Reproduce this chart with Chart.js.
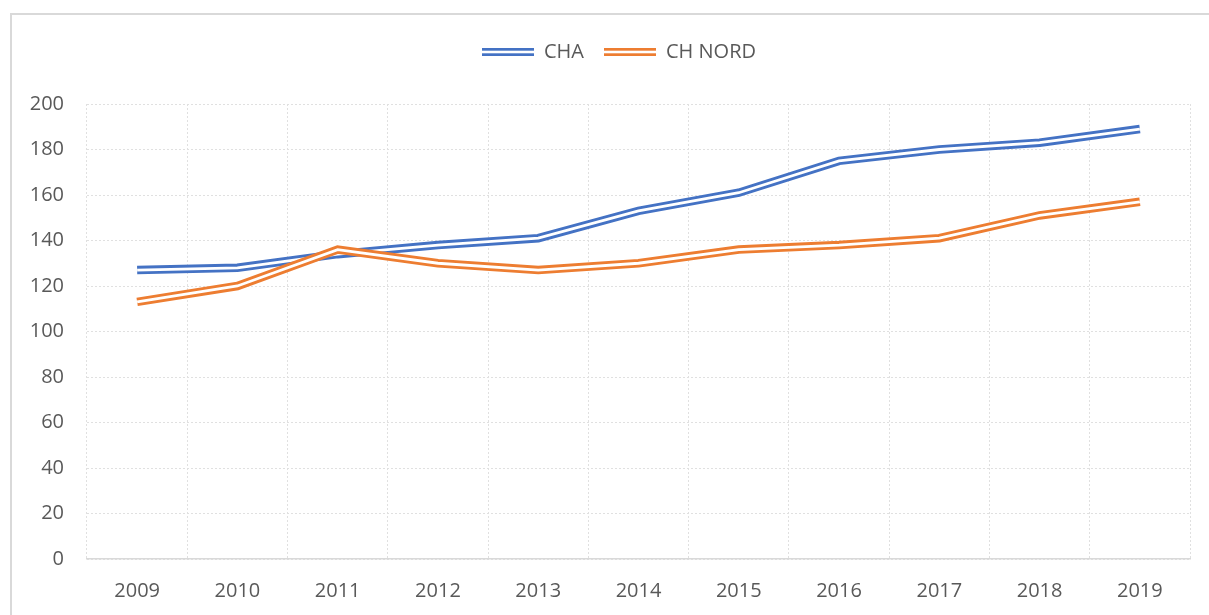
<!DOCTYPE html>
<html>
<head>
<meta charset="utf-8">
<script src="https://cdn.jsdelivr.net/npm/chart.js@4/dist/chart.umd.min.js"></script>
<style>
    html, body { margin: 0; padding: 0; background: #fff; overflow: hidden; }
    #frame { position: absolute; left: 10px; top: 13px; width: 1400px; height: 800px; border-left: 2px solid #d9d9d9; border-top: 2px solid #d9d9d9; }
    #wrap { position: absolute; left: 0; top: 0; width: 1209px; height: 615px; }
</style>
</head>
<body>
<div id="frame"></div>
<div id="wrap"><canvas id="lineChart"></canvas></div>
<script>
const years = ['2009', '2010', '2011', '2012', '2013', '2014', '2015', '2016', '2017', '2018', '2019'];
const chaValues = [127, 128, 134, 138, 141, 153, 161, 175, 180, 183, 189];
const chNordValues = [113, 120, 136, 130, 127, 130, 136, 138, 141, 151, 157];
const seriesNames = ['CHA', 'CH NORD'];
const seriesColors = ['#4472C4', '#ED7D31'];

const textColor = '#595959';
const gridColor = '#e0e0e0';
const fontFamily = "'Open Sans', 'Liberation Sans', sans-serif";

// little double line used as the legend marker
function doubleLineIcon(color) {
    const c = document.createElement('canvas');
    c.width = 52;
    c.height = 8;
    const ctx = c.getContext('2d');
    ctx.fillStyle = color;
    ctx.fillRect(0, 0, 52, 2.7);
    ctx.fillRect(0, 5.3, 52, 2.7);
    return c;
}

function makeDatasets() {
    const sets = [];
    [chaValues, chNordValues].forEach(function (values, i) {
        // later series sits on top (lower order is drawn last)
        const base = (2 - i) * 2;
        sets.push({
            label: seriesNames[i],
            data: values,
            borderColor: seriesColors[i],
            backgroundColor: seriesColors[i],
            borderWidth: 8.5,
            pointRadius: 0,
            tension: 0,
            order: base,
            pointStyle: doubleLineIcon(seriesColors[i])
        });
        // white core makes the compound (double) line
        sets.push({
            label: seriesNames[i] + '_core',
            data: values,
            borderColor: '#ffffff',
            borderWidth: 2.8,
            pointRadius: 0,
            tension: 0,
            order: base - 1
        });
    });
    return sets;
}

// extra room under the legend, and legend centred on the outer frame
const legendMargin = {
    id: 'legendMargin',
    beforeInit(chart) {
        const fit = chart.legend.fit;
        chart.legend.fit = function () {
            fit.bind(chart.legend)();
            this.height += 32;
        };
    },
    afterLayout(chart) {
        chart.legend.left += 24;
        chart.legend.right += 24;
    }
};

Chart.defaults.font.family = fontFamily;
Chart.defaults.color = textColor;

new Chart(document.getElementById('lineChart').getContext('2d'), {
    type: 'line',
    data: {
        labels: years,
        datasets: makeDatasets()
    },
    options: {
        responsive: true,
        maintainAspectRatio: false,
        animation: false,
        layout: {
            padding: { left: 0, right: 19, top: 22, bottom: 0 }
        },
        plugins: {
            tooltip: { enabled: false },
            legend: {
                position: 'top',
                labels: {
                    usePointStyle: true,
                    pointStyleWidth: 52,
                    boxHeight: 8,
                    padding: 20,
                    color: textColor,
                    font: { size: 20 },
                    sort: (a, b) => a.datasetIndex - b.datasetIndex,
                    filter: item => !item.text.endsWith('_core')
                }
            }
        },
        scales: {
            x: {
                offset: true,
                grid: {
                    offset: true,
                    color: gridColor,
                    lineWidth: 1,
                    drawTicks: false
                },
                border: { display: true, color: '#d9d9d9', width: 1.5, dash: [2, 2] },
                ticks: { color: textColor, font: { size: 20 }, padding: 20, maxRotation: 0 },
                afterFit(scale) { scale.height = 56; }
            },
            y: {
                min: 0,
                max: 200,
                ticks: { stepSize: 20, color: textColor, font: { size: 20 }, padding: 23 },
                grid: { color: gridColor, lineWidth: 1, drawTicks: false },
                border: { display: false, dash: [2, 2] },
                afterFit(scale) { scale.width = 87; }
            }
        }
    },
    plugins: [legendMargin]
});
</script>
</body>
</html>
